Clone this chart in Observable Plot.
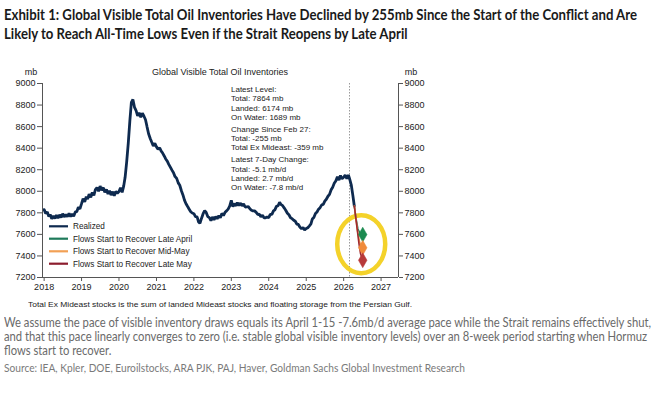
<!DOCTYPE html>
<html><head><meta charset="utf-8">
<script src="https://cdn.jsdelivr.net/npm/d3@7"></script>
<script src="https://cdn.jsdelivr.net/npm/@observablehq/plot@0.6"></script>
<style>
body{margin:0;background:#fff;width:658px;height:396px;overflow:hidden;position:relative;}
.t{position:absolute;white-space:nowrap;transform-origin:0 50%;}
.title{left:4px;font-family:Lato,"Open Sans",sans-serif;font-weight:700;font-size:15px;color:#1a1a1a;line-height:19px;}
.body{left:4px;font-family:Lato,"Open Sans",sans-serif;font-size:12.5px;color:#6a6a6a;line-height:14px;}
.src{left:4px;font-family:Lato,"Open Sans",sans-serif;font-size:11.5px;color:#7a7a7a;line-height:14px;}
.fn{left:28px;font-family:"Liberation Sans",Arial,sans-serif;font-size:8px;color:#222;line-height:10px;}
#chart{position:absolute;left:0;top:62px;}
</style></head><body>
<div class="t title" data-g="title" data-w="633" style="top:4.5px">Exhibit 1: Global Visible Total Oil Inventories Have Declined by 255mb Since the Start of the Conflict and Are</div>
<div class="t title" data-g="title" style="top:23.5px">Likely to Reach All-Time Lows Even if the Strait Reopens by Late April</div>
<div id="chart"></div>
<div class="t fn" data-g="fn" data-w="384" style="top:300px">Total Ex Mideast stocks is the sum of landed Mideast stocks and floating storage from the Persian Gulf.</div>
<div class="t body" data-g="body" data-w="647" style="top:316px">We assume the pace of visible inventory draws equals its April 1-15 -7.6mb/d average pace while the Strait remains effectively shut,</div>
<div class="t body" data-g="body" style="top:330px">and that this pace linearly converges to zero (i.e. stable global visible inventory levels) over an 8-week period starting when Hormuz</div>
<div class="t body" data-g="body" style="top:343.5px">flows start to recover.</div>
<div class="t src" data-g="src" data-w="461" style="top:361px">Source: IEA, Kpler, DOE, Euroilstocks, ARA PJK, PAJ, Haver, Goldman Sachs Global Investment Research</div>
<script>
// Realized inventories (mb), semi-monthly readings (1st and 16th of each month)
const v2018 = [7830,7795,7808,7765,7785,7745,7772,7748,7778,7750,7782,7756,7792,7762,7785,7764,7794,7766,7788,7768,7808,7812,7852,7836];
const v2019 = [7885,7932,7902,7950,7928,7972,7945,7990,7962,8015,8035,8000,8048,8010,8034,7990,8016,7975,8004,7965,7996,7958,7998,7982];
const v2020 = [7998,8032,7990,8048,8130,8270,8450,8650,8825,8852,8778,8748,8700,8728,8686,8725,8696,8664,8598,8534,8490,8455,8420,8445];
const v2021 = [8412,8390,8402,8372,8356,8330,8300,8280,8250,8224,8196,8172,8136,8122,8078,8056,8005,7966,7918,7884,7858,7834,7810,7798];
const v2022 = [7792,7765,7762,7715,7702,7748,7792,7820,7803,7765,7755,7728,7762,7735,7765,7745,7775,7755,7795,7775,7805,7818,7834,7862];
const v2023 = [7915,7858,7885,7865,7895,7868,7890,7864,7884,7854,7856,7858,7838,7824,7818,7818,7804,7784,7788,7764,7778,7754,7754,7762];
const v2024 = [7756,7786,7786,7818,7828,7860,7866,7898,7876,7866,7844,7822,7796,7782,7754,7746,7731,7722,7696,7692,7666,7652,7664,7640];
const v2025 = [7654,7662,7679,7697,7742,7756,7794,7808,7834,7848,7874,7878,7909,7926,7954,7971,8014,8038,8074,8096,8134,8104,8146,8116];
const dates2026 = ["2026-01-01","2026-01-16","2026-02-01","2026-02-16","2026-02-27","2026-03-16","2026-04-01","2026-04-15"];
const v2026 = [8130,8150,8116,8152,8119,8060,7960,7864];

// Scenario projections
const projLateAprilDates = ["2026-04-15","2026-04-30","2026-05-20","2026-06-10","2026-07-06"];
const projLateAprilVals  = [7864,7755,7650,7610,7598];
const projMidMayDates = ["2026-04-15","2026-05-15","2026-06-05","2026-06-25","2026-07-06"];
const projMidMayVals  = [7864,7640,7530,7485,7476];
const projLateMayDates = ["2026-04-15","2026-05-31","2026-06-15","2026-07-06"];
const projLateMayVals  = [7864,7510,7420,7360];

const seriesNames = ["Realized","Flows Start to Recover Late April","Flows Start to Recover Mid-May","Flows Start to Recover Late May"];
const lineColors = ["#0e2a4f","#1f7a5a","#f2a055","#8c1d2e"];
const diamondColors = ["#1b8a50","#f08a3a","#b83a3a"];
const yTicks = [7200,7400,7600,7800,8000,8200,8400,8600,8800,9000];
const xTickYears = [2018,2019,2020,2021,2022,2023,2024,2025,2026,2027];
const conflictStart = "2026-02-27";

const annotationLines = [
  ["Latest Level:", 0],["Total: 7864 mb",0],["Landed: 6174 mb",0],["On Water: 1689 mb",0],
  ["Change Since Feb 27:",1],["Total: -255 mb",1],["Total Ex Mideast: -359 mb",1],
  ["Latest 7-Day Change:",2],["Total: -5.1 mb/d",2],["Landed: 2.7 mb/d",2],["On Water: -7.8 mb/d",2]
];

// Build tables
const realized = [];
[[2018,v2018],[2019,v2019],[2020,v2020],[2021,v2021],[2022,v2022],[2023,v2023],[2024,v2024],[2025,v2025]].forEach(([yr,arr])=>{
  arr.forEach((v,i)=>{
    const m = Math.floor(i/2), d = i%2===0?1:16;
    realized.push({date:new Date(Date.UTC(yr,m,d)), value:v});
  });
});
dates2026.forEach((d,i)=>realized.push({date:new Date(d+"T00:00Z"), value:v2026[i]}));
const mk = (ds,vs)=>ds.map((d,i)=>({date:new Date(d+"T00:00Z"), value:vs[i]}));
const projA = mk(projLateAprilDates, projLateAprilVals);
const projB = mk(projMidMayDates, projMidMayVals);
const projC = mk(projLateMayDates, projLateMayVals);
const diamonds = [projA, projB, projC].map((p,i)=>({...p[p.length-1], c: diamondColors[i]}));

const x0 = new Date(Date.UTC(2017,11,16)), x1 = new Date(Date.UTC(2027,5,20));
const xTicks = xTickYears.map(y=>new Date(Date.UTC(y,0,1)));
const axisColor = "#555";

const plot = Plot.plot({
  width: 658, height: 233,
  marginLeft: 42, marginRight: 260, marginTop: 21, marginBottom: 18,
  style: {fontFamily: "'Liberation Sans', Arial, sans-serif", fontSize: "9px", color: "#222", background: "#fff"},
  x: {type: "utc", domain: [x0, x1]},
  y: {domain: [7200, 9000]},
  marks: [
    Plot.ruleX([new Date(conflictStart+"T00:00Z")], {stroke:"#9a9a9a", strokeDasharray:"1.5,1.5", strokeWidth:1}),
    Plot.line(realized, {x:"date", y:"value", stroke: lineColors[0], strokeWidth: 2.8, strokeLinejoin: "miter"}),
    Plot.line(projA, {x:"date", y:"value", stroke: lineColors[1], strokeWidth: 1.6}),
    Plot.line(projB, {x:"date", y:"value", stroke: lineColors[2], strokeWidth: 1.6}),
    Plot.line(projC, {x:"date", y:"value", stroke: "#a02a30", strokeWidth: 1.6}),
    Plot.dot(diamonds, {x:"date", y:"value", symbol:"diamond", r:4.5, fill:"c", stroke:"c", strokeWidth:0.5}),
    Plot.ruleX([x0, x1], {stroke: axisColor}),
    Plot.ruleY([7200], {stroke: axisColor}),
    Plot.axisX({ticks: xTicks, tickFormat: "%Y", tickSize: 4, tickPadding: 2, stroke: axisColor, label: null}),
    Plot.axisY({anchor:"left", ticks: yTicks, tickFormat: "d", tickSize: 5, tickPadding: 2, stroke: axisColor, label: null}),
    Plot.axisY({anchor:"right", ticks: yTicks, tickFormat: "d", tickSize: 4, tickPadding: 2, stroke: axisColor, label: null})
  ]
});
document.getElementById("chart").appendChild(plot);

const svg = d3.select(plot);
const xs = plot.scale("x"), ys = plot.scale("y");
// highlight ellipse, placed beneath the data lines
const ell = document.createElementNS("http://www.w3.org/2000/svg", "ellipse");
d3.select(ell)
  .attr("cx", xs.apply(diamonds[0].date) - 1)
  .attr("cy", ys.apply(7505))
  .attr("rx", 24).attr("ry", 29)
  .attr("fill", "none").attr("stroke", "#f4d22a").attr("stroke-width", 4.5);
plot.insertBefore(ell, plot.querySelector("g[aria-label='line']"));

const F = "'Liberation Sans', Arial, sans-serif";
const addText = (x, y, txt, size, anchor) =>
  svg.append("text").attr("x", x).attr("y", y).attr("dy", "0.35em")
    .attr("text-anchor", anchor).attr("font-family", F).attr("font-size", size)
    .attr("fill", "#222").text(txt);
// unit labels and chart title
addText(31, 10, "mb", 9, "middle");
addText(411, 10, "mb", 9, "middle");
addText(220, 10, "Global Visible Total Oil Inventories", 9, "middle");
// annotation block
let ay = 27.3, prevG = 0;
annotationLines.forEach(([txt,g],i)=>{
  if (i>0) ay += 9.2 + (g!==prevG ? 2.9 : 0);
  prevG = g;
  addText(231, ay, txt, 8, "start");
});
// legend
const legY = [164.3, 176.7, 189.3, 201.7];
seriesNames.forEach((n,i)=>{
  svg.append("line").attr("x1",49).attr("x2",68).attr("y1",legY[i]).attr("y2",legY[i])
    .attr("stroke", lineColors[i]).attr("stroke-width", 2.2);
  addText(73, legY[i], n, 8.2, "start");
});

// fit text lines: each group uses the scale measured on its reference line
const groupScale = {};
document.querySelectorAll(".t[data-w]").forEach(el=>{
  const w = el.getBoundingClientRect().width;
  if (w > 0) groupScale[el.dataset.g] = +el.dataset.w / w;
});
document.querySelectorAll(".t").forEach(el=>{
  const s = groupScale[el.dataset.g];
  if (s) el.style.transform = `scaleX(${s})`;
});
</script>
</body></html>
